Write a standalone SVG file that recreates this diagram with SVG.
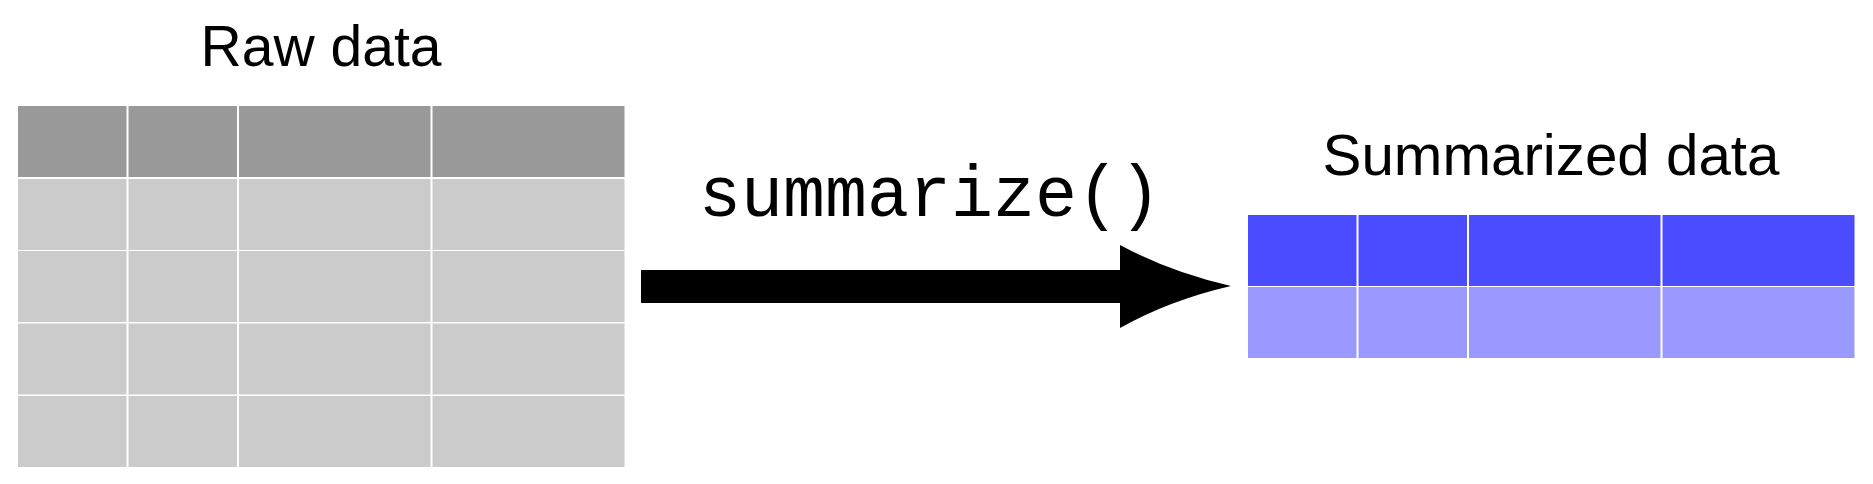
<svg xmlns="http://www.w3.org/2000/svg" width="1873" height="484" viewBox="0 0 1873 484">
<style>
.hd{fill:#999999}
.bd{fill:#cbcbcb}
.shd{fill:#4b4bff}
.sbd{fill:#9999ff}
.hand{font-family:"Liberation Sans",Arial,sans-serif;font-size:58px;fill:#000;text-anchor:middle}
.code{font-family:"Liberation Mono","Courier New",monospace;font-size:72px;fill:#000;text-anchor:middle}
</style>
<defs>
<g id="row">
<rect x="0" y="0" width="108.5" height="71"/>
<rect x="110.5" y="0" width="108.5" height="71"/>
<rect x="221" y="0" width="191.5" height="71"/>
<rect x="414.5" y="0" width="192" height="71"/>
</g>
</defs>
<g id="raw-data">
<text class="hand" x="321" y="66" textLength="241" lengthAdjust="spacingAndGlyphs">Raw data</text>
<use href="#row" class="hd" x="18" y="106"/>
<use href="#row" class="bd" x="18" y="179"/>
<use href="#row" class="bd" x="18" y="251"/>
<use href="#row" class="bd" x="18" y="323.5"/>
<use href="#row" class="bd" x="18" y="396"/>
</g>
<g id="summarized-data">
<text class="hand" x="1551" y="175" textLength="457" lengthAdjust="spacingAndGlyphs">Summarized data</text>
<use href="#row" class="shd" x="1248" y="215"/>
<use href="#row" class="sbd" x="1248" y="287"/>
</g>
<g id="connectors">
<rect x="641" y="270" width="480" height="33" fill="#000"/>
<path d="M1120,245 Q1170,272 1231,286 Q1170,300 1120,328 Z" fill="#000"/>
<text class="code" x="930" y="216" textLength="462" lengthAdjust="spacingAndGlyphs">summarize()</text>
</g>
</svg>
